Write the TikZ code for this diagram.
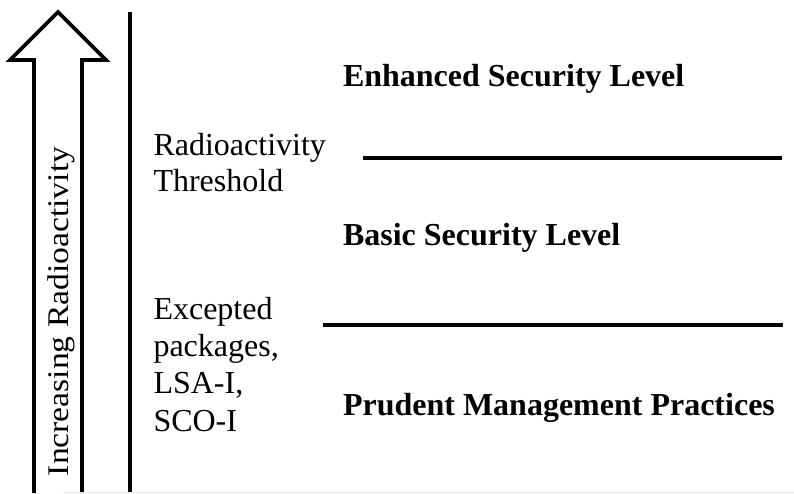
\documentclass[tikz,border=0pt]{standalone}
\usepackage{fontspec}
\setmainfont{Liberation Serif}
\begin{document}
\begin{tikzpicture}[x=1pt,y=-1pt,
  lbl/.style={inner sep=0pt,outer sep=0pt,anchor=base west,font=\fontsize{32}{36}\selectfont,align=left},
  lvl/.style={inner sep=0pt,outer sep=0pt,anchor=base west,font=\fontsize{32}{38}\selectfont\bfseries},
  thick line/.style={line width=4pt},
]
\useasboundingbox (0,0) rectangle (794,493);
% arrow
\draw[line width=3.6pt,line join=miter,miter limit=10]
  (34,493) -- (34,60) -- (10,60) -- (58,12) -- (106,60) -- (82,60) -- (82,493);
\node[inner sep=0pt,anchor=base,rotate=90,xscale=1.12,font=\fontsize{30}{36}\selectfont]
  (inc) at (68,311.5) {Increasing Radioactivity};
% vertical axis
\draw[thick line] (130,12) -- (130,493);
% faint bottom edge
\draw[gray!15,line width=1pt] (63,492) -- (794,492);
% threshold lines
\draw[thick line] (363,158) -- (782,158);
\draw[thick line] (323,325) -- (783,325);
% labels (base anchor = baseline of the last line)
\node[lbl] (thr) at (153.5,191) {Radioactivity\\Threshold};
\node[lbl,font=\fontsize{32}{37.3}\selectfont] (exc) at (153.5,431) {Excepted\\packages,\\LSA-I,\\SCO-I};
\node[lvl] (enh) at (343,86) {Enhanced Security Level};
\node[lvl] (bas) at (343,245) {Basic Security Level};
\node[lvl] (pru) at (343,415) {Prudent Management Practices};
\end{tikzpicture}
\end{document}
